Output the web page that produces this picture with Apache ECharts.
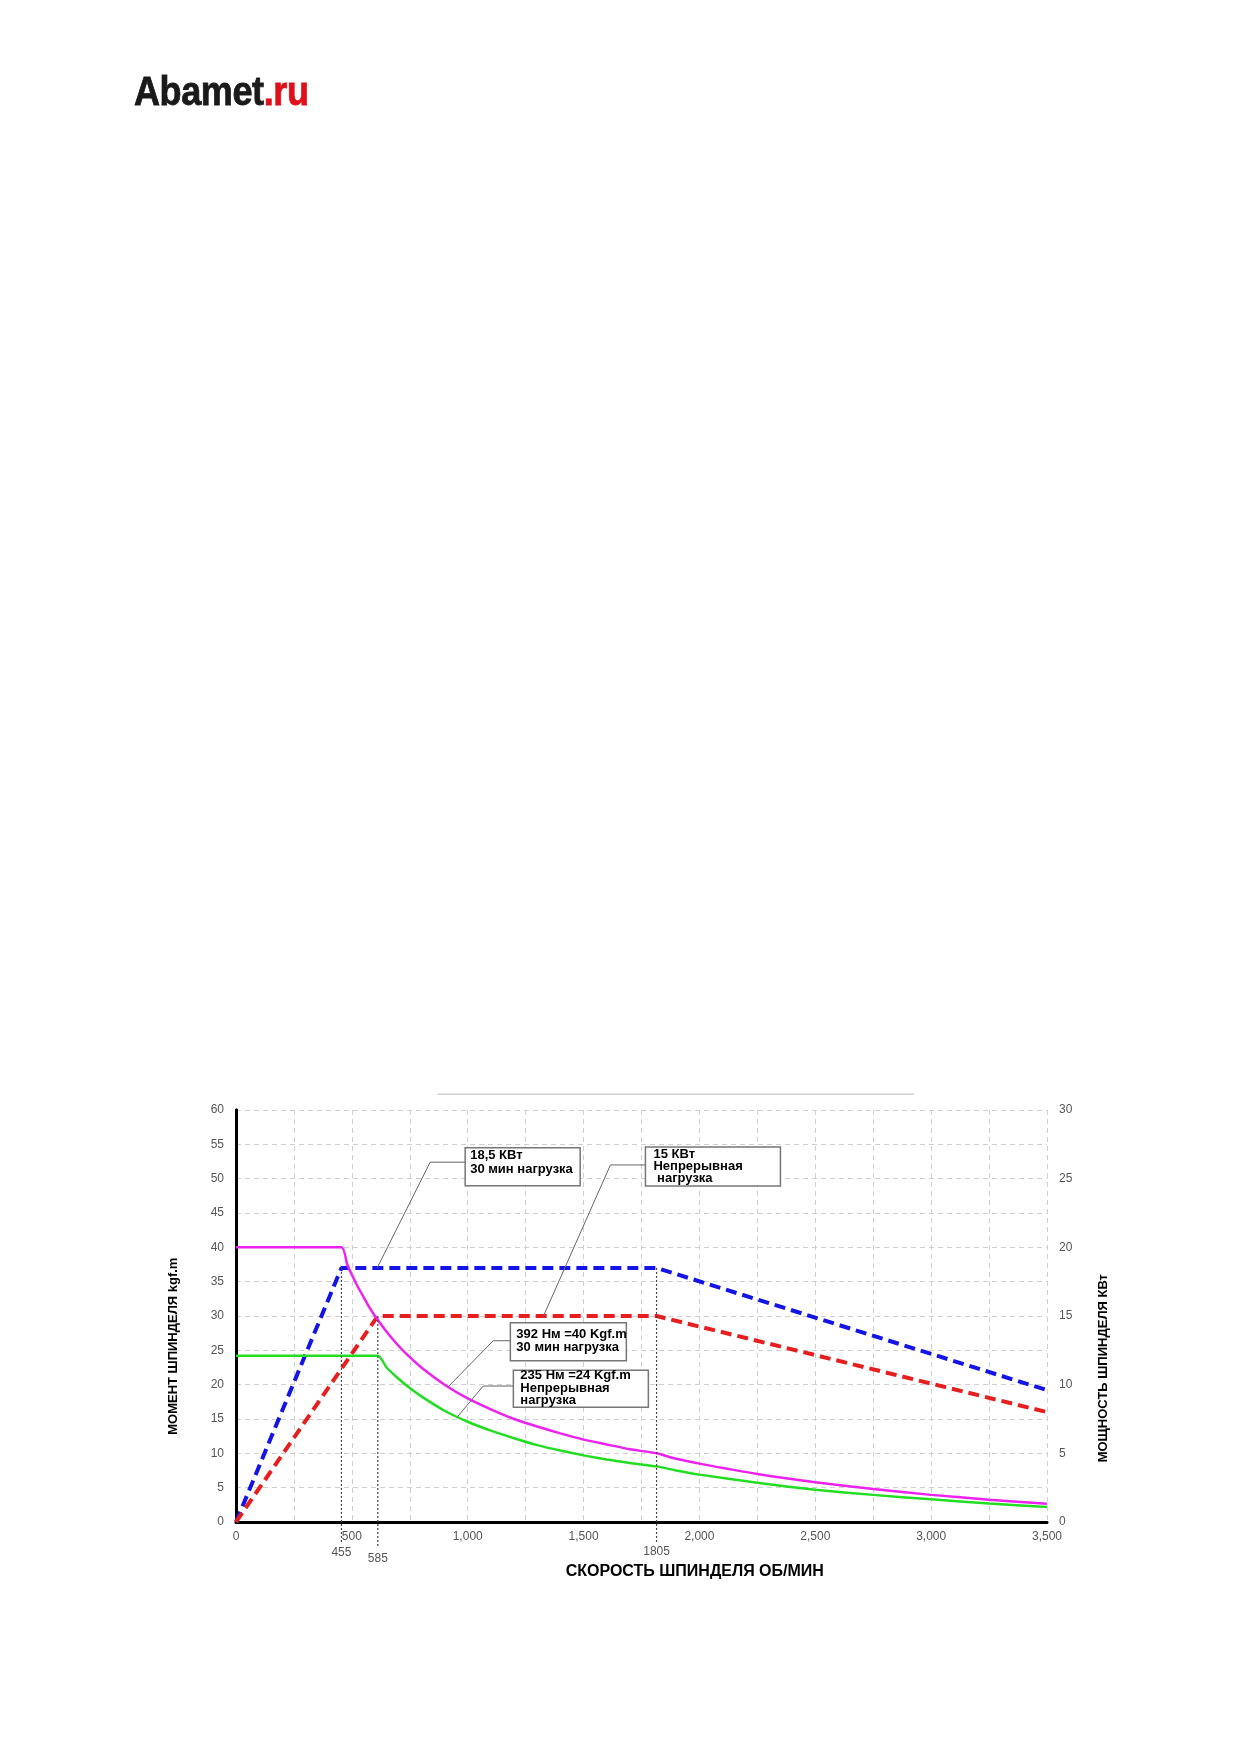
<!DOCTYPE html>
<html>
<head>
<meta charset="utf-8">
<script src="https://cdn.jsdelivr.net/npm/echarts@6/dist/echarts.min.js"></script>
<style>
  html, body { margin: 0; padding: 0; background: #fff; }
  #logo { position: absolute; left: 134px; top: 68px; font-family: 'Liberation Sans', Arial, sans-serif; font-weight: bold; font-size: 41px; letter-spacing: -0.5px; transform: scaleX(0.88); transform-origin: left top; color: #1a1a1a; -webkit-text-stroke: 0.8px #1a1a1a; }
  #logo span { color: #e0101a; -webkit-text-stroke: 0.8px #e0101a; }
  #chart { position: absolute; left: 0; top: 0; width: 1240px; height: 1754px; }
</style>
</head>
<body>
<div id="chart"></div>
<div id="logo">Abamet<span>.ru</span></div>
<script>
// ---- data (rpm, torque kgf.m) ----
const torque30min = [[0,40],[455,40],[480,37.5],[500,36.0],[525,34.3],[550,32.8],[575,31.3],[600,30.0],[650,27.7],[700,25.7],[750,24.0],[800,22.5],[900,20.0],[1000,18.0],[1100,16.4],[1200,15.0],[1300,13.9],[1400,12.9],[1500,12.0],[1600,11.3],[1700,10.6],[1815,10.0],[1900,9.2],[2000,8.5],[2250,7.0],[2500,5.8],[2750,4.8],[3000,3.95],[3250,3.25],[3500,2.65]];
const torqueCont = [[0,24.2],[612,24.2],[650,22.5],[700,20.9],[750,19.5],[800,18.3],[900,16.2],[1000,14.6],[1100,13.3],[1200,12.2],[1300,11.2],[1400,10.4],[1500,9.7],[1600,9.1],[1700,8.6],[1815,8.1],[1900,7.5],[2000,6.9],[2250,5.7],[2500,4.7],[2750,3.95],[3000,3.3],[3250,2.7],[3500,2.2]];
// ---- data (rpm, power kW) ----
const power30min = [[0,0],[455,18.5],[1815,18.5],[3500,9.6]];
const powerCont = [[0,0],[612,15],[1815,15],[3500,8]];
// reference speeds (as drawn) and their labels
const refSpeeds = [455, 612, 1815];
const refLabels = ['455', '585', '1805'];
const xTitle = 'СКОРОСТЬ ШПИНДЕЛЯ ОБ/МИН';
const yLeftTitle = 'МОМЕНТ ШПИНДЕЛЯ kgf.m';
const yRightTitle = 'МОЩНОСТЬ ШПИНДЕЛЯ КВт';
// annotations: text, box anchor (rpm, left-axis value), elbow, target (rpm, value, axis)
const notes = [
  { text: '18,5 КВт\n30 мин нагрузка', box: [989, 54.5], w: 115, h: 38, elbow: [838, 52.4], target: [609, 18.5, 1], pad: 5, top: 1, lh: 14 },
  { text: '15 КВт\nНепрерывная\n нагрузка', box: [1767, 54.6], w: 135, h: 39, elbow: [1616, 52.0], target: [1327, 15, 1], pad: 8, top: 1, lh: 12 },
  { text: '392 Нм =40 Kgf.m\n30 мин нагрузка', box: [1184, 29.0], w: 116, h: 38, elbow: [1110, 26.4], target: [916, 19.7, 0], pad: 6, top: 5, lh: 13 },
  { text: '235 Нм =24 Kgf.m\nНепрерывная\nнагрузка', box: [1197, 22.1], w: 135, h: 37, elbow: [1067, 19.8], target: [955, 15.3, 0], pad: 7, top: -1, lh: 12.5 }
];

const FONT = "'Liberation Sans', Arial, sans-serif";
const chart = echarts.init(document.getElementById('chart'), null, { renderer: 'canvas' });
const gridLine = { show: true, lineStyle: { color: '#cfcfcf', type: [5, 4], width: 1 } };

chart.setOption({
  backgroundColor: '#fff',
  animation: false,
  grid: { left: 236, right: 193, top: 1110, bottom: 232, containLabel: false },
  xAxis: [
    {
      type: 'value', min: 0, max: 3500, interval: 250, position: 'bottom',
      axisLine: { show: true, lineStyle: { color: '#333', width: 2 } },
      axisTick: { show: false },
      axisLabel: { color: '#555', fontSize: 12, fontFamily: FONT, margin: 9,
        formatter: v => (v % 500 === 0 ? v.toLocaleString('en-US') : '') },
      splitLine: gridLine
    },
    {
      type: 'value', min: 0, max: 3500, position: 'top',
      axisLine: { show: true, lineStyle: { color: '#000', width: 3 } },
      axisTick: { show: false }, axisLabel: { show: false }, splitLine: { show: false }
    }
  ],
  yAxis: [
    {
      type: 'value', min: 0, max: 60, interval: 5, position: 'left',
      axisLine: { show: true, lineStyle: { color: '#000', width: 3 } },
      axisTick: { show: false },
      axisLabel: { color: '#555', fontSize: 12, fontFamily: FONT, margin: 12 },
      splitLine: gridLine
    },
    {
      type: 'value', min: 0, max: 30, interval: 5, position: 'right',
      axisLine: { show: true, lineStyle: { color: '#000', width: 3 } },
      axisTick: { show: false },
      axisLabel: { color: '#555', fontSize: 12, fontFamily: FONT, margin: 12 },
      splitLine: { show: false }
    }
  ],
  series: [
    { name: 'power30', type: 'line', yAxisIndex: 1, data: power30min, showSymbol: false, z: 3,
      lineStyle: { color: '#1414e6', width: 4, type: [11, 6] } },
    { name: 'powerCont', type: 'line', yAxisIndex: 1, data: powerCont, showSymbol: false, z: 3,
      lineStyle: { color: '#e61e1e', width: 4, type: [11, 6] } },
    { name: 'torque30', type: 'line', yAxisIndex: 0, data: torque30min, showSymbol: false, smooth: 0.2, z: 4,
      lineStyle: { color: '#ee22ee', width: 2.5 } },
    { name: 'torqueCont', type: 'line', yAxisIndex: 0, data: torqueCont, showSymbol: false, smooth: 0.2, z: 4,
      lineStyle: { color: '#22dd22', width: 2.5 } }
  ]
});

// ---- overlay graphics positioned via the chart's own scales ----
const px = (x, y, axis) => chart.convertToPixel(axis === 1 ? { xAxisIndex: 0, yAxisIndex: 1 } : { xAxisIndex: 0, yAxisIndex: 0 }, [x, y]);
const g = [];
const y0 = px(0, 0)[1];

// top decorative line
const tl0 = px(870, 62.3), tl1 = px(2925, 62.3);
g.push({ type: 'line', shape: { x1: tl0[0], y1: tl0[1], x2: tl1[0], y2: tl1[1] }, style: { stroke: '#d0d0d0', lineWidth: 1.5 }, z: 10 });

// reference dotted lines
const refTops = [[455, 18.5, 1], [612, 15, 1], [1815, 18.5, 1]];
const labelDy = [31, 37, 30];
refSpeeds.forEach((s, i) => {
  const t = px(refTops[i][0], refTops[i][1], refTops[i][2]);
  g.push({ type: 'line', shape: { x1: t[0], y1: t[1], x2: t[0], y2: y0 + 22 + (i === 1 ? 4 : 0) },
    style: { stroke: '#444', lineWidth: 1.2, lineDash: [2, 2] }, z: 5 });
  g.push({ type: 'text', x: t[0], y: y0 + labelDy[i], style: { text: refLabels[i], fill: '#555', font: '12px ' + FONT, textAlign: 'center', textVerticalAlign: 'middle' }, z: 10 });
});

// annotations
notes.forEach(n => {
  const b = px(n.box[0], n.box[1]);
  const e = px(n.elbow[0], n.elbow[1]);
  const t = px(n.target[0], n.target[1], n.target[2]);
  g.push({ type: 'polyline', shape: { points: [[b[0], e[1]], e, t] }, style: { stroke: '#666', lineWidth: 1, fill: null }, z: 11 });
  g.push({ type: 'rect', shape: { x: b[0], y: b[1], width: n.w, height: n.h }, style: { fill: '#fff', stroke: '#777', lineWidth: 1.5 }, z: 12 });
  g.push({ type: 'text', x: b[0] + n.pad, y: b[1] + n.top, style: { text: n.text, fill: '#000', font: 'bold 13px ' + FONT, lineHeight: n.lh }, z: 13 });
});

// axis titles
const xMid = px(1980, 0);
g.push({ type: 'text', x: xMid[0], y: y0 + 50, style: { text: xTitle, fill: '#000', font: 'bold 16px ' + FONT, textAlign: 'center', textVerticalAlign: 'middle' }, z: 10 });
const lMid = px(0, 25.6);
g.push({ type: 'text', x: lMid[0] - 63, y: lMid[1], rotation: Math.PI / 2, style: { text: yLeftTitle, fill: '#000', font: 'bold 13px ' + FONT, textAlign: 'center', textVerticalAlign: 'middle' }, z: 10 });
const rMid = px(3500, 22.4);
g.push({ type: 'text', x: rMid[0] + 56, y: rMid[1], rotation: Math.PI / 2, style: { text: yRightTitle, fill: '#000', font: 'bold 13px ' + FONT, textAlign: 'center', textVerticalAlign: 'middle' }, z: 10 });

chart.setOption({ graphic: g });
</script>
</body>
</html>
